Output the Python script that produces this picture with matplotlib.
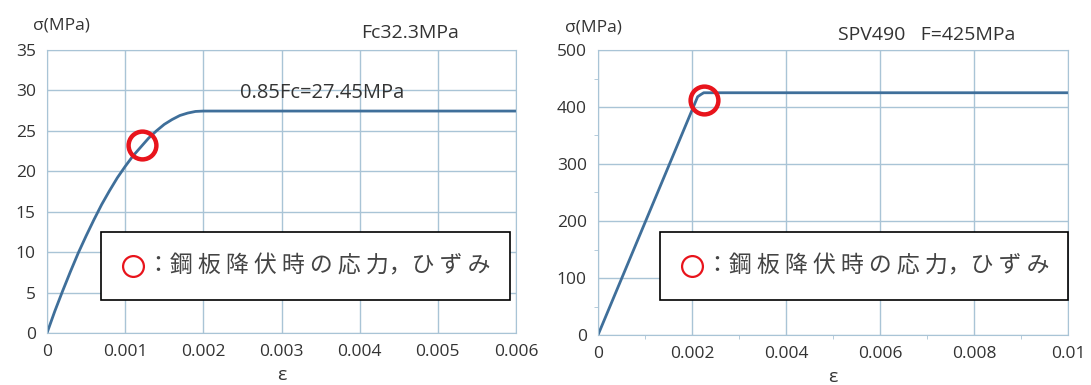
import matplotlib
matplotlib.use("Agg")
import matplotlib.pyplot as plt
from matplotlib.patches import Rectangle

plt.rcParams["font.family"] = ["Open Sans", "Noto Sans CJK JP", "DejaVu Sans"]

# コンクリート
eps_c = [0, 0.0001, 0.0002, 0.0003, 0.0004, 0.0005, 0.0006, 0.0007, 0.0008, 0.0009,
         0.001, 0.0011, 0.0012, 0.0013, 0.0014, 0.0015, 0.0016, 0.0017, 0.0018,
         0.0019, 0.002, 0.006]
sig_c = [0, 2.7, 5.2, 7.6, 9.9, 12.0, 14.0, 15.9, 17.6, 19.2, 20.6, 21.9, 23.0,
         24.1, 25.0, 25.8, 26.4, 26.9, 27.2, 27.4, 27.45, 27.45]
yield_c = (0.00122, 23.3)

# 鋼板
eps_s = [0, 0.00212, 0.00219, 0.00225, 0.01]
sig_s = [0, 418, 422, 425, 425]
yield_s = (0.00225, 412)

legend_text = "：鋼 板 降 伏 時 の 応 力，ひ ず み"
line_color = "#3f6f9a"
grid_color = "#a9c4d6"
txt_color = "#333333"

fig = plt.figure(figsize=(10.91, 3.85), dpi=100)


def setup(ax, xmax, ymax, xticks, yticks, xlabels):
    ax.set_xlim(0, xmax)
    ax.set_ylim(0, ymax)
    ax.set_xticks(xticks)
    ax.set_xticklabels(xlabels)
    ax.set_yticks(yticks)
    ax.grid(True, color=grid_color, linewidth=1.0)
    for s in ax.spines.values():
        s.set_color(grid_color)
    ax.tick_params(length=0, labelsize=12.5, colors=txt_color, pad=8)
    ax.set_axisbelow(True)


ax1 = fig.add_axes([47 / 1091, 52 / 385, 469 / 1091, 283 / 385])
setup(ax1, 0.006, 35, [0, 0.001, 0.002, 0.003, 0.004, 0.005, 0.006], range(0, 36, 5),
      ["0", "0.001", "0.002", "0.003", "0.004", "0.005", "0.006"])
ax1.plot(eps_c, sig_c, color=line_color, linewidth=2)
ax1.plot(*yield_c, "o", mfc="none", mec="#e8141c", ms=20, mew=3.2)
ax1.text(0.00247, 29.7, "0.85Fc=27.45MPa", fontsize=14.5, color=txt_color, va="center")
ax1.text(0.03, 1.06, "σ(MPa)", transform=ax1.transAxes, fontsize=12.5, color=txt_color,
         ha="center", va="bottom")
ax1.text(0.67, 1.03, "Fc32.3MPa", transform=ax1.transAxes, fontsize=14, color=txt_color,
         va="bottom")
ax1.text(0.5, -0.148, "ε", transform=ax1.transAxes, fontsize=14, color=txt_color,
         ha="center", va="center")

ax2 = fig.add_axes([598 / 1091, 50 / 385, 470 / 1091, 285 / 385])
setup(ax2, 0.01, 500, [0, 0.002, 0.004, 0.006, 0.008, 0.01], range(0, 501, 100),
      ["0", "0.002", "0.004", "0.006", "0.008", "0.01"])
ax2.set_yticks(range(50, 500, 100), minor=True)
ax2.set_xticks([0.001, 0.003, 0.005, 0.007, 0.009], minor=True)
ax2.tick_params(which="minor", length=3, color=grid_color)
ax2.plot(eps_s, sig_s, color=line_color, linewidth=2)
ax2.plot(*yield_s, "o", mfc="none", mec="#e8141c", ms=20, mew=3.2)
ax2.text(-0.01, 1.05, "σ(MPa)", transform=ax2.transAxes, fontsize=12.5, color=txt_color,
         ha="center", va="bottom")
ax2.text(0.51, 1.02, "SPV490   F=425MPa", transform=ax2.transAxes, fontsize=14,
         color=txt_color, va="bottom")
ax2.text(0.5, -0.148, "ε", transform=ax2.transAxes, fontsize=14, color=txt_color,
         ha="center", va="center")

# 凡例ボックス
for x0, x1 in [(101, 510), (660, 1068)]:
    fig.patches.append(Rectangle((x0 / 1091, 85 / 385), (x1 - x0) / 1091, 68 / 385,
                                 transform=fig.transFigure, facecolor="white",
                                 edgecolor="black", linewidth=1.2, zorder=5))
    fig.lines.append(plt.Line2D([(x0 + 32) / 1091], [119 / 385], marker="o", mfc="none",
                                mec="#e8141c", ms=15, mew=1.6,
                                transform=fig.transFigure, zorder=6))
    fig.text((x0 + 46) / 1091, 119 / 385, legend_text, fontsize=16.5, color="#444444",
             va="center", ha="left", family=["Noto Sans CJK JP", "DejaVu Sans"], zorder=6)

fig.savefig("out.png", dpi=100)
